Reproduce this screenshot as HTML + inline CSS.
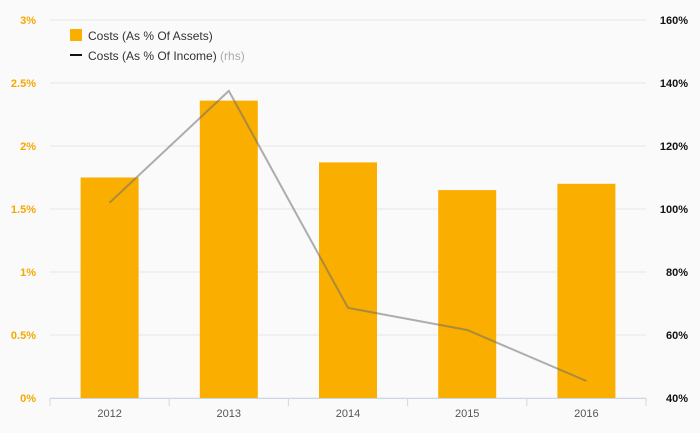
<!DOCTYPE html>
<html><head><meta charset="utf-8"><style>
body{margin:0;background:#fafafa;font-family:"Liberation Sans",sans-serif}
svg{display:block}
</style></head><body>
<svg width="700" height="433">
<rect width="700" height="433" fill="#fafafa"/>
<g id="grid"></g><g id="bars"></g><g id="line"></g><g id="axes"></g>
<g>
<rect x="70" y="29" width="12" height="12" fill="#f9ae00"/>
<text x="88" y="40" font-size="12" fill="#333">Costs (As % Of Assets)</text>
<line x1="70" y1="55" x2="82" y2="55" stroke="#111" stroke-width="2"/>
<text x="88" y="60" font-size="12" fill="#333">Costs (As % Of Income) <tspan fill="#aaa">(rhs)</tspan></text>
</g>
</svg>
<script>
const categories=["2012","2013","2014","2015","2016"];
const assetsPct=[1.75,2.36,1.87,1.65,1.70];
const incomePct=[102,137.5,68.6,61.6,45.4];
const leftTicks=[0,0.5,1,1.5,2,2.5,3];
const leftLabels=["0%","0.5%","1%","1.5%","2%","2.5%","3%"];
const rightTicks=[40,60,80,100,120,140,160];
const rightLabels=["40%","60%","80%","100%","120%","140%","160%"];
const NS="http://www.w3.org/2000/svg";
const X0=50,X1=646,Y0=398,Y1=20;
const yL=v=>Y0-(v-0)/3*(Y0-Y1);
const yR=v=>Y0-(v-40)/120*(Y0-Y1);
const bw=(X1-X0)/categories.length;
const xC=i=>X0+bw*(i+0.5);
function mk(t,a,p){const e=document.createElementNS(NS,t);for(const k in a)e.setAttribute(k,a[k]);document.getElementById(p).appendChild(e);return e;}
leftTicks.forEach((v,i)=>{
 const g=mk("line",{x1:X0,x2:X1,y1:yL(v),y2:yL(v),stroke:"#e6e6e6"},"grid");
 
 
 const t=mk("text",{x:36,y:yL(v)+4,"text-anchor":"end","font-size":"11","font-weight":"bold",fill:"#f5a800"},"axes");
 t.textContent=leftLabels[i];
 
 
});
rightTicks.forEach((v,i)=>{
 const t=mk("text",{x:688,y:yR(v)+4,"text-anchor":"end","font-size":"11","font-weight":"bold",fill:"#111"},"axes");
 t.textContent=rightLabels[i];
 
 
});
categories.forEach((c,i)=>{
 const r=mk("rect",{x:xC(i)-29,y:yL(assetsPct[i]),width:58,height:Y0-yL(assetsPct[i]),fill:"#f9ae00"},"bars");
 
 
 const t=mk("text",{x:xC(i),y:417,"text-anchor":"middle","font-size":"11",fill:"#555"},"axes");
 t.textContent=c;
 
 
});
for(let i=0;i<=categories.length;i++){
 const tk=mk("line",{x1:X0+bw*i,x2:X0+bw*i,y1:Y0,y2:Y0+8,stroke:"#ccd6eb"},"axes");
 
 
}
const ax=mk("line",{x1:X0,x2:X1,y1:Y0+0.5,y2:Y0+0.5,stroke:"#ccd6eb"},"axes");


const pl=mk("polyline",{points:incomePct.map((v,i)=>xC(i)+","+yR(v)).join(" "),fill:"none",stroke:"rgba(110,110,110,0.55)","stroke-width":"2"},"line");


</script>
</body></html>
